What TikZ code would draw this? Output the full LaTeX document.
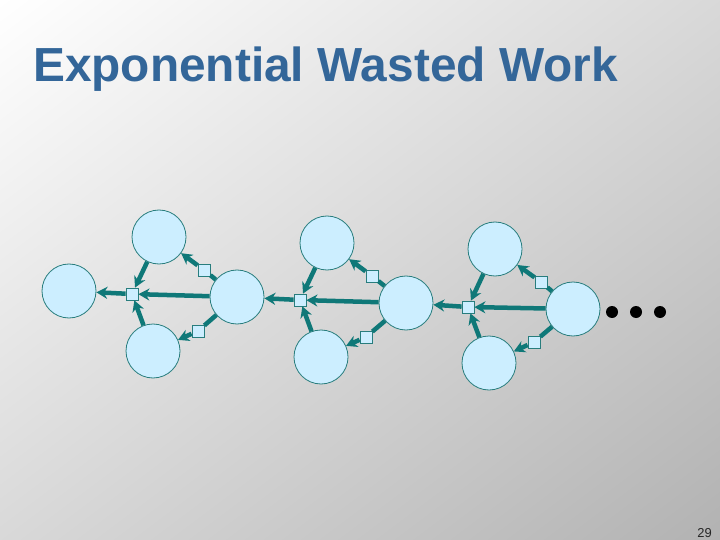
\documentclass[tikz,border=0pt]{standalone}
\usepackage{fontspec}
\setmainfont{Liberation Sans}
\usepackage{tikz}
\usetikzlibrary{arrows.meta,shapes,positioning}
\usepackage{xcolor}
\definecolor{wwteal}{RGB}{15,120,120}
\definecolor{wwedge}{RGB}{40,125,125}
\definecolor{wwcyan}{RGB}{204,238,255}
\definecolor{wwtitle}{RGB}{51,102,153}
\definecolor{wwgray}{RGB}{178,178,178}
\definecolor{wwmid}{RGB}{230,230,230}
\tikzstyle{task} = [circle, minimum size=54bp, inner sep=0pt, draw=wwedge, fill=wwcyan, line width=0.8bp]
\tikzstyle{joinbox} = [rectangle, minimum size=12bp, inner sep=0pt, draw=wwedge, fill=wwcyan, line width=0.8bp]
\tikzstyle{arrow} = [line width=4.5bp,->,>={Stealth[length=11bp,width=12bp]},color=wwteal]
\tikzstyle{link} = [line width=4.5bp,color=wwteal]
\tikzstyle{morebox} = [circle, minimum size=12bp, inner sep=0pt, fill=black]

\begin{document}
\begin{tikzpicture}[x=1bp, y=-1bp]
\useasboundingbox (0,0) rectangle (720,540);
% Background
\begin{scope}
\clip (0,0) rectangle (720,540);
\begin{scope}[transform canvas={rotate around={36.87:(360,270)}}]
\shade[top color=white, middle color=wwmid, bottom color=wwgray] (-90,-162) rectangle (810,702);
\end{scope}
\end{scope}

% Title and page number
\node[anchor=base west, inner sep=0pt, text=wwtitle, font=\fontsize{48}{52}\selectfont\bfseries] (title) at (33,82) {Exponential Wasted Work};
\node[anchor=base east, inner sep=0pt, text=black!85, font=\fontsize{13}{15}\selectfont] (page) at (712,537) {29};

% Main chain
\node[task] (c0) at (69,291) {};
\node[task] (c1) at (237,297) {};
\node[task] (c2) at (406,303) {};
\node[task] (c3) at (573,309) {};

% Upper and lower tasks
\node[task] (t1) at (159,237) {};
\node[task] (t2) at (327,243) {};
\node[task] (t3) at (495,249) {};
\node[task] (b1) at (153,351) {};
\node[task] (b2) at (321,357) {};
\node[task] (b3) at (489,363) {};

% Join squares
\node[joinbox] (j1) at (132,294) {};
\node[joinbox] (j2) at (300,300) {};
\node[joinbox] (j3) at (468,307) {};

% Spawn squares
\node[joinbox] (u1) at (204,270) {};
\node[joinbox] (u2) at (372,276) {};
\node[joinbox] (u3) at (541,282) {};
\node[joinbox] (l1) at (198,331) {};
\node[joinbox] (l2) at (366,337) {};
\node[joinbox] (l3) at (534,342) {};

% Dots
\node[morebox] (d1) at (612,312) {};
\node[morebox] (d2) at (636,312) {};
\node[morebox] (d3) at (660,312) {};

% Connections along the chain
\draw[arrow] (c1) -- (j1);
\draw[arrow] (j1) -- (c0);
\draw[arrow] (c2) -- (j2);
\draw[arrow] (j2) -- (c1);
\draw[arrow] (c3) -- (j3);
\draw[arrow] (j3) -- (c2);

% Connections into the joins
\draw[arrow] (t1) -- (j1);
\draw[arrow] (b1) -- (j1);
\draw[arrow] (t2) -- (j2);
\draw[arrow] (b2) -- (j2);
\draw[arrow] (t3) -- (j3);
\draw[arrow] (b3) -- (j3);

% Spawned tasks
\draw[link] (c1) -- (u1);
\draw[arrow] (u1) -- (t1);
\draw[link] (c1) -- (l1);
\draw[arrow] (l1) -- (b1);
\draw[link] (c2) -- (u2);
\draw[arrow] (u2) -- (t2);
\draw[link] (c2) -- (l2);
\draw[arrow] (l2) -- (b2);
\draw[link] (c3) -- (u3);
\draw[arrow] (u3) -- (t3);
\draw[link] (c3) -- (l3);
\draw[arrow] (l3) -- (b3);
\end{tikzpicture}
\end{document}
